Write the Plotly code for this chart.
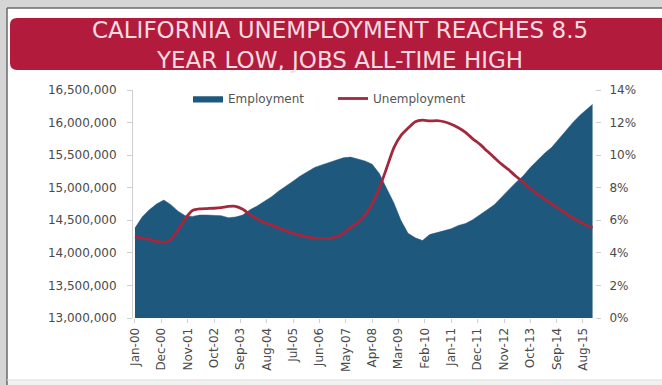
import plotly.graph_objects as go

# Month offsets from Jan 2000 for the sampled points (quarterly, plus Dec 2015)
month_offsets = list(range(0, 190, 3)) + [191]

# California nonfarm employment, persons
employment = [
    14380000, 14550000, 14660000, 14750000, 14810000, 14740000, 14640000, 14570000,
    14560000, 14580000, 14580000, 14580000, 14570000, 14540000, 14550000, 14580000,
    14660000, 14720000, 14790000, 14860000, 14950000, 15020000, 15100000, 15180000,
    15250000, 15310000, 15350000, 15390000, 15430000, 15460000, 15470000, 15440000,
    15410000, 15360000, 15220000, 14990000, 14770000, 14500000, 14300000, 14230000,
    14190000, 14280000, 14310000, 14340000, 14370000, 14420000, 14450000, 14510000,
    14580000, 14660000, 14740000, 14860000, 14970000, 15080000, 15180000, 15310000,
    15420000, 15530000, 15620000, 15750000, 15880000, 16010000, 16120000, 16220000,
    16280000,
]

# California unemployment rate, percent
unemployment = [
    5.00, 4.90, 4.83, 4.70, 4.65, 4.82, 5.40, 6.10,
    6.60, 6.70, 6.72, 6.74, 6.78, 6.85, 6.86, 6.68,
    6.35, 6.08, 5.86, 5.70, 5.52, 5.35, 5.20, 5.07,
    4.96, 4.90, 4.87, 4.88, 4.98, 5.20, 5.55, 5.85,
    6.30, 7.00, 7.96, 9.19, 10.45, 11.20, 11.65, 12.05,
    12.15, 12.10, 12.12, 12.05, 11.90, 11.68, 11.40, 11.00,
    10.66, 10.25, 9.85, 9.45, 9.10, 8.70, 8.35, 7.95,
    7.60, 7.30, 7.00, 6.70, 6.40, 6.12, 5.88, 5.65,
    5.55,
]

# Axis labels every 11 months
tick_offsets = list(range(0, 188, 11))
tick_labels = [
    "Jan-00", "Dec-00", "Nov-01", "Oct-02", "Sep-03", "Aug-04", "Jul-05", "Jun-06",
    "May-07", "Apr-08", "Mar-09", "Feb-10", "Jan-11", "Dec-11", "Nov-12", "Oct-13",
    "Sep-14", "Aug-15",
]

title_lines = ["CALIFORNIA UNEMPLOYMENT REACHES 8.5", "YEAR LOW, JOBS ALL-TIME HIGH"]


def month_date(m):
    return f"{2000 + m // 12}-{m % 12 + 1:02d}-01"


dates = [month_date(m) for m in month_offsets]
tick_dates = [month_date(m) for m in tick_offsets]

W, H = 662, 385
L, R, T, B = 133, 67, 90, 67
PW, PH = W - L - R, H - T - B


def fx(px):
    return (px - L) / PW


def fy(py):
    return (H - B - py) / PH


FONT = "DejaVu Sans"
TICK_GREY = "#cfcfcf"

fig = go.Figure()
fig.add_trace(go.Scatter(
    x=dates, y=employment, name="Employment", mode="lines",
    line=dict(color="#1e587d", width=0.5), fill="tozeroy", fillcolor="#1e587d",
))
fig.add_trace(go.Scatter(
    x=dates, y=unemployment, name="Unemployment", mode="lines", yaxis="y2",
    line=dict(color="#a3283d", width=2.8, shape="spline", smoothing=0.6),
))

# Rounded red banner
x0, x1 = fx(10), fx(672)
ytop, ybot = fy(18), fy(70)
rx, ry = 7 / PW, 7 / PH
banner = (
    f"M {x0 + rx},{ytop} L {x1 - rx},{ytop} Q {x1},{ytop} {x1},{ytop - ry} "
    f"L {x1},{ybot + ry} Q {x1},{ybot} {x1 - rx},{ybot} "
    f"L {x0 + rx},{ybot} Q {x0},{ybot} {x0},{ybot + ry} "
    f"L {x0},{ytop - ry} Q {x0},{ytop} {x0 + rx},{ytop} Z"
)

shapes = [
    dict(type="rect", xref="paper", yref="paper", x0=fx(7), x1=fx(680), y0=fy(380), y1=fy(8),
         fillcolor="white", line=dict(width=0), layer="below"),
    dict(type="rect", xref="paper", yref="paper", x0=fx(7), x1=fx(680), y0=fy(400), y1=fy(380),
         fillcolor="#f1f1f1", line=dict(width=0), layer="below"),
    dict(type="line", xref="paper", yref="paper", x0=fx(7), x1=fx(7), y0=fy(8), y1=fy(400),
         line=dict(color="#6a6a6a", width=1.5), layer="below"),
    dict(type="line", xref="paper", yref="paper", x0=fx(7), x1=fx(680), y0=fy(8), y1=fy(8),
         line=dict(color="#6a6a6a", width=1.5), layer="below"),
    dict(type="line", xref="paper", yref="paper", x0=fx(7), x1=fx(680), y0=fy(380), y1=fy(380),
         line=dict(color="#dddddd", width=1), layer="below"),
    dict(type="path", xref="paper", yref="paper", path=banner,
         fillcolor="#b31b3c", line=dict(width=0), layer="below"),
]

annotations = [
    dict(text="<br>".join(title_lines), xref="paper", yref="paper", x=fx(340), y=fy(45),
         xanchor="center", yanchor="middle", showarrow=False, align="center",
         font=dict(family=FONT, size=23, color="#f5dbe1")),
]

fig.update_layout(
    width=W, height=H,
    margin=dict(l=L, r=R, t=T, b=B),
    paper_bgcolor="#d5d5d5",
    plot_bgcolor="rgba(0,0,0,0)",
    shapes=shapes,
    annotations=annotations,
    showlegend=True,
    legend=dict(orientation="h", x=fx(188), y=fy(84), xanchor="left", yanchor="top",
                bgcolor="rgba(0,0,0,0)", font=dict(family=FONT, size=12, color="#555555"),
                itemwidth=30, entrywidth=100, entrywidthmode="pixels"),
    xaxis=dict(
        type="date", range=["1999-12-07", "2016-01-01"],
        tickmode="array", tickvals=tick_dates, ticktext=tick_labels, tickangle=-90,
        tickfont=dict(family=FONT, size=12, color="#4a4a4a"),
        ticks="outside", ticklen=4, tickcolor=TICK_GREY,
        showgrid=False, showline=False, zeroline=False,
    ),
    yaxis=dict(
        range=[13000000, 16500000], dtick=500000, tickformat=",d",
        tickfont=dict(family=FONT, size=12, color="#4a4a4a"),
        ticks="outside", ticklen=5, tickcolor=TICK_GREY, ticklabelstandoff=8,
        showline=True, linecolor=TICK_GREY, linewidth=1,
        showgrid=False, zeroline=False,
    ),
    yaxis2=dict(
        overlaying="y", side="right", range=[0, 14], dtick=2, ticksuffix="%",
        tickfont=dict(family=FONT, size=12, color="#4a4a4a"),
        ticks="outside", ticklen=5, tickcolor=TICK_GREY, ticklabelstandoff=6,
        showline=False, showgrid=False, zeroline=False,
    ),
)

fig.write_html("out.html")
